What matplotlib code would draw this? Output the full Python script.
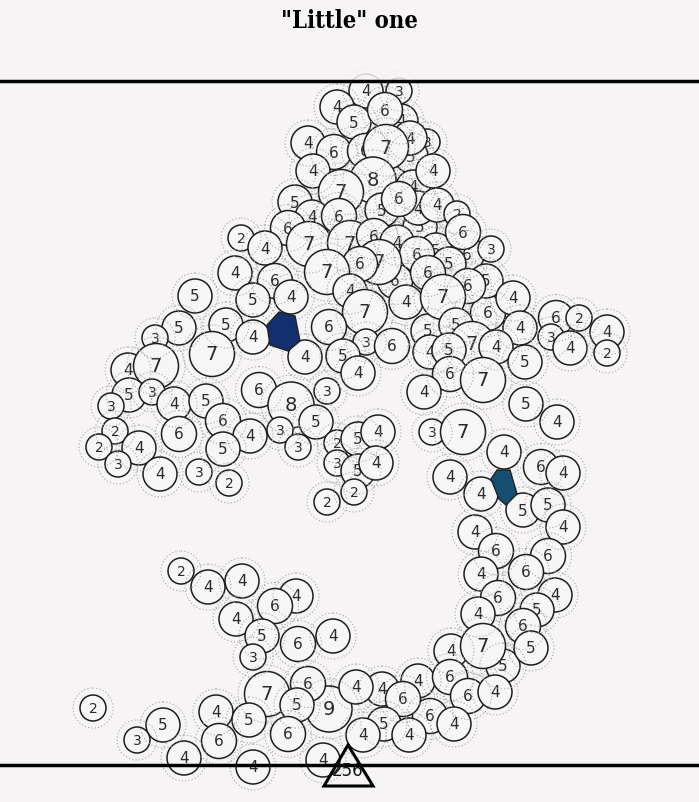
import numpy as np
import matplotlib.pyplot as plt
from matplotlib.patches import Circle, Polygon, Rectangle

# circles: x, y (pixels, y down) and the number inside
cx = [427, 411, 420, 436, 467, 395, 473, 488, 503, 428, 401, 410, 413, 418,
      366, 399, 337, 354, 385,
      308, 334, 365, 386, 433,
      313, 373, 341,
      295, 312, 339, 382, 399, 437, 457,
      288, 241, 265, 309, 350, 374, 397, 463, 491,
      417, 449, 379, 360, 327, 235, 275, 428, 486, 468,
      350, 406, 443, 513, 195, 253, 291,
      365, 329, 179, 226, 253, 155, 366, 392, 212, 305, 343, 358, 128, 156,
      456, 520, 472, 496, 430, 449,
      556, 579, 551, 570, 607, 607,
      525, 450, 483, 424, 526, 557,
      259, 291, 327, 129, 152, 111, 174, 206,
      115, 99, 139, 118, 179, 223, 250, 223, 160, 199, 229, 280, 316, 298,
      337, 358, 378, 337, 358, 376, 354, 327,
      432, 463, 504, 541, 563, 450, 481, 523, 548, 563, 475, 496, 548, 481,
      526, 498, 555, 537, 478, 523, 451, 483, 531,
      418, 450, 468, 495, 430, 454, 382, 403, 384, 409, 363,
      181, 208, 242, 296, 275, 236, 262, 253, 298, 333,
      93, 329, 267, 308, 297, 356, 216, 249, 163, 137, 219, 288, 184, 253, 323]
cy = [143, 157, 228, 251, 255, 282, 320, 314, 667, 332, 122, 139, 188, 209,
      92, 92, 108, 123, 111,
      144, 153, 152, 148, 172,
      172, 181, 193,
      203, 218, 217, 211, 200, 206, 215,
      229, 239, 249, 245, 244, 237, 243, 233, 250,
      255, 265, 263, 265, 273, 274, 282, 274, 282, 287,
      292, 303, 298, 299, 297, 301, 298,
      313, 328, 329, 326, 338, 339, 343, 347, 355, 358, 357, 374, 371, 367,
      326, 329, 345, 348, 353, 351,
      319, 319, 338, 349, 333, 354,
      363, 375, 381, 393, 405, 423,
      391, 406, 392, 396, 393, 407, 405, 402,
      432, 448, 449, 465, 435, 422, 437, 450, 475, 473, 484, 431, 423, 448,
      444, 440, 433, 464, 472, 464, 493, 503,
      433, 433, 453, 468, 474, 478, 495, 511, 506, 528, 533, 552, 557, 575,
      573, 599, 596, 611, 615, 627, 652, 647, 649,
      682, 678, 697, 693, 717, 725, 690, 700, 725, 736, 736,
      572, 588, 582, 597, 607, 620, 637, 658, 645, 637,
      709, 710, 695, 685, 706, 688, 713, 721, 726, 741, 742, 735, 759, 768, 761]
lab = [3, 5, 5, 5, 6, 6, 6, 6, 5, 5, 4, 4, 4, 4,
       4, 3, 4, 5, 6,
       4, 6, 6, 7, 4,
       4, 8, 7,
       5, 4, 6, 5, 6, 4, 2,
       6, 2, 4, 7, 7, 6, 4, 6, 3,
       6, 5, 7, 6, 7, 4, 6, 6, 5, 6,
       4, 4, 7, 4, 5, 5, 4,
       7, 6, 5, 5, 4, 3, 3, 6, 7, 4, 5, 4, 4, 7,
       5, 4, 7, 4, 4, 5,
       6, 2, 3, 4, 4, 2,
       5, 6, 7, 4, 5, 4,
       6, 8, 3, 5, 3, 3, 4, 5,
       2, 2, 4, 3, 6, 6, 4, 5, 4, 3, 2, 3, 5, 3,
       2, 5, 4, 3, 5, 4, 2, 2,
       3, 7, 4, 6, 4, 4, 4, 5, 5, 4, 4, 6, 6, 4,
       6, 6, 4, 5, 4, 6, 4, 7, 5,
       4, 6, 6, 4, 6, 4, 4, 6, 5, 4, 4,
       2, 4, 4, 4, 6, 4, 5, 3, 6, 4,
       2, 9, 7, 6, 5, 4, 4, 5, 5, 3, 6, 6, 4, 4, 4]

# the two filled gaps
navy_x = [267, 279, 295, 300, 288, 270]
navy_y = [326, 313, 317, 342, 352, 346]
teal_x = [491, 497, 510, 517, 506, 499]
teal_y = [480, 471, 471, 495, 506, 500]

title = '"Little" one'
total = "256"

bg = "#f6f4f5"
rad = {2: 13, 3: 13, 4: 17, 5: 17, 6: 17.5, 7: 22.5, 8: 23, 9: 23}
ring = {2: 20, 3: 20, 4: 23, 5: 23, 6: 23.5, 7: 29, 8: 30, 9: 30}
fsize = {2: 10, 3: 10, 4: 11, 5: 11, 6: 11, 7: 14, 8: 14, 9: 14}

fig = plt.figure(figsize=(6.99, 8.03), dpi=100, facecolor=bg)
ax = fig.add_axes([0, 0, 1, 1])
ax.set_xlim(0, 699)
ax.set_ylim(803, 0)
ax.set_facecolor(bg)
ax.axis("off")

z = 2.0
for x, y, n in zip(cx, cy, lab):
     ax.add_patch(Circle((x, y), rad[n], facecolor="#f7f6f7", edgecolor="#1e1e1e", lw=1.1, zorder=z))
     ax.text(x, y, str(n), ha="center", va="center", fontsize=fsize[n], color="#2a2a2a", zorder=z)
     z += 0.01

# dotted rings sit over everything
for x, y, n in zip(cx, cy, lab):
     ax.add_patch(Circle((x, y), ring[n], facecolor="none", edgecolor="#a5a5a5", lw=0.8,
                         linestyle=(0, (1, 2)), zorder=9))

ax.add_patch(Polygon(np.column_stack([navy_x, navy_y]), closed=True, facecolor="#12306e",
                     edgecolor="#222222", lw=1.0, zorder=10))
ax.add_patch(Polygon(np.column_stack([teal_x, teal_y]), closed=True, facecolor="#174f72",
                     edgecolor="#222222", lw=1.0, zorder=10))

# fade whatever pokes above the top rule
ax.add_patch(Rectangle((0, 0), 699, 82, facecolor=bg, edgecolor="none", alpha=0.85, zorder=11))

ax.axhline(82, color="black", lw=2.5, zorder=12)
ax.axhline(766, color="black", lw=2.5, zorder=12)

ax.add_patch(Polygon([[348, 746], [324, 787], [373, 787]], closed=True, facecolor="none",
                     edgecolor="black", lw=2.2, zorder=13))
ax.text(348, 771, total, ha="center", va="center", fontsize=12, color="#111111", zorder=13)

ax.text(349, 21, title, ha="center", va="center", fontsize=17, fontweight="bold",
        family="DejaVu Serif", fontstretch="condensed", zorder=13)

fig.savefig("out.png", dpi=100, facecolor=bg)
